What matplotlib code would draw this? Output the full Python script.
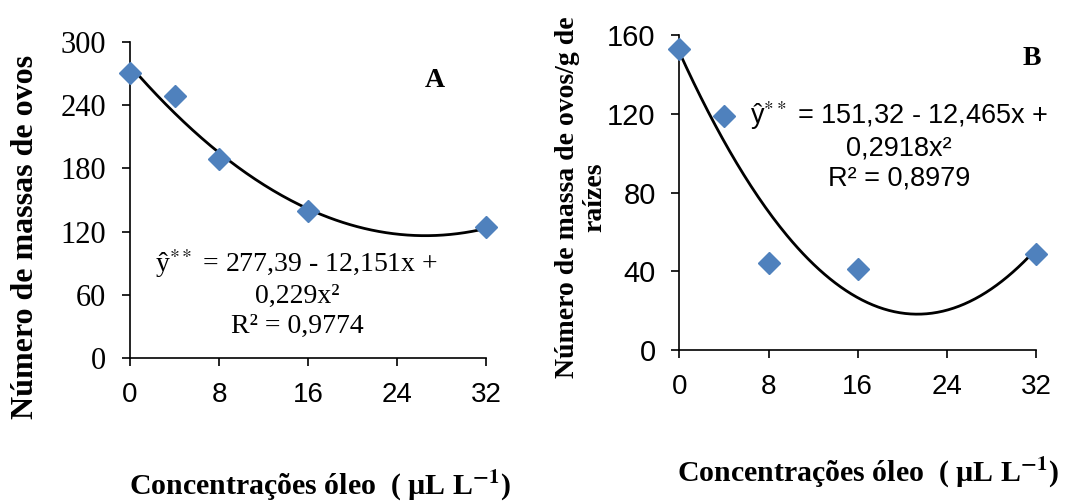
import numpy as np
import matplotlib.pyplot as plt

plt.rcParams['mathtext.fontset'] = 'stix'

x_pts = [0, 4, 8, 16, 32]
massas = [270, 249, 189, 140, 124]
massa_g = [153, 119, 44, 41, 49]
coef_a = [277.39, -12.151, 0.229]
coef_b = [151.32, -12.465, 0.2918]
x_ticks = [0, 8, 16, 24, 32]
yticks_a = [0, 60, 120, 180, 240, 300]
yticks_b = [0, 40, 80, 120, 160]

blue = '#4F81BD'
serif = 'Liberation Serif'
sans = 'Liberation Sans'

fig = plt.figure(figsize=(10.79, 5.01), dpi=100)
axA = fig.add_axes([0.1205, 0.2848, 0.33, 0.632])
axB = fig.add_axes([0.6296, 0.3014, 0.3306, 0.6287])

xx = np.linspace(0, 32, 200)


def style(ax, yt, yfont):
    for s in ['top', 'right']:
        ax.spines[s].set_visible(False)
    for s in ['left', 'bottom']:
        ax.spines[s].set_linewidth(1.2)
    ax.set_xlim(0, 32)
    ax.set_ylim(yt[0], yt[-1])
    ax.set_xticks(x_ticks)
    ax.set_yticks(yt)
    ax.tick_params(direction='out', length=6, width=1.2, pad=11)
    for t in ax.get_xticklabels():
        t.set_fontfamily(sans)
        t.set_fontsize(20)
    for t in ax.get_yticklabels():
        t.set_fontfamily(yfont)
        t.set_fontsize(22 if yfont == serif else 21)


# painel A
axA.plot(xx, coef_a[0] + coef_a[1] * xx + coef_a[2] * xx**2, color='black', lw=2, clip_on=False)
axA.plot(x_pts, massas, 'D', color=blue, ms=11, clip_on=False, zorder=5)
style(axA, yticks_a, serif)
axA.text(15, 62, 'ŷ$^{**}$ = 277,39 - 12,151x +\n0,229x²\nR² = 0,9774',
         ha='center', va='center', fontsize=20, family=serif, linespacing=1.25)
axA.text(27.4, 263, 'A', ha='center', va='center', fontsize=20, family=serif, weight='bold')

# painel B
axB.plot(xx, coef_b[0] + coef_b[1] * xx + coef_b[2] * xx**2, color='black', lw=2, clip_on=False)
axB.plot(x_pts, massa_g, 'D', color=blue, ms=11, clip_on=False, zorder=5)
style(axB, yticks_b, sans)
axB.text(19.7, 104, 'ŷ$^{**}$ = 151,32 - 12,465x +\n0,2918x²\nR² = 0,8979',
         ha='center', va='center', fontsize=19.5, family=sans, linespacing=1.2)
axB.text(31.6, 148, 'B', ha='center', va='center', fontsize=20, family=serif, weight='bold')

# rótulos
fig.text(0.024, 0.527, 'Número de massas de ovos', rotation=90, ha='center', va='center',
         fontsize=23, family=serif, weight='bold')
fig.text(581 / 1079, 1 - 197 / 501, 'Número de massa de ovos/g de\nraízes', rotation=90,
         ha='center', va='center', multialignment='center', fontsize=20, family=serif,
         weight='bold', linespacing=1.1)
fig.text(320 / 1079, -0.004, 'Concentrações óleo  ( µL L$^{\\mathbf{-1}}$)', ha='center', va='bottom',
         fontsize=21.5, family=serif, weight='bold')
fig.text(868 / 1079, 0.022, 'Concentrações óleo  ( µL L$^{\\mathbf{-1}}$)', ha='center', va='bottom',
         fontsize=21.5, family=serif, weight='bold')

fig.savefig('out.png', dpi=100)
